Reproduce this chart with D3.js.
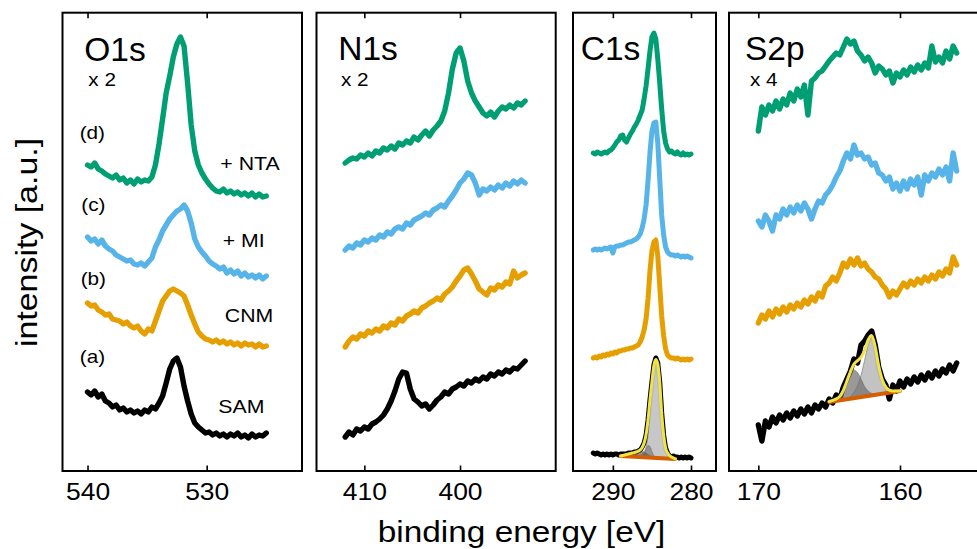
<!DOCTYPE html>
<html>
<head>
<meta charset="utf-8">
<script src="https://cdn.jsdelivr.net/npm/d3@7"></script>
<style>
  html, body { margin: 0; padding: 0; background: #fff; }
  svg { display: block; font-family: "Liberation Sans", Arial, Helvetica, sans-serif; }
</style>
</head>
<body>
<svg id="chart" width="977" height="549"></svg>
<script>
// ---------------- data ----------------
// core levels shown in the four panels and their magnification factors
const coreLevels = ["O1s", "N1s", "C1s", "S2p"];
const magnification = ["x 2", "x 2", "", "x 4"];
// sample series, bottom to top
const samples = ["SAM", "CNM", "+ MI", "+ NTA"];
const sampleTags = ["(a)", "(b)", "(c)", "(d)"];
// tick labels of the binding-energy axes (eV)
const o1sTicks = [540, 530];
const n1sTicks = [410, 400];
const c1sTicks = [290, 280];
const s2pTicks = [170, 160];

// binding-energy sampling of each spectrum (eV)
const o1sEnergy = d3.range(51).map(i => 540 - 0.3 * i);
const n1sEnergy = d3.range(48).map(i => 412 - 0.4 * i);
const c1sEnergy = d3.range(51).map(i => 292.5 - 0.25 * i);
const s2pEnergy = d3.range(57).map(i => 170 - 0.25 * i);

// intensities (a.u., vertically offset for stacking)
const o1sSAM = [79,76,80,74,77,70,68,64,66,61,63,59,61,58,60,57,61,59,64,62,68,75,88,102,110,113,104,85,70,57,48,44,41,38,39,36,38,35,37,34,37,35,38,34,36,33,37,34,36,35,38];
const o1sCNM = [168,165,166,161,159,156,157,152,151,150,147,149,145,143,145,140,137,142,140,150,160,170,175,180,182,180,178,175,166,156,147,139,135,132,131,129,131,128,130,127,129,126,128,125,128,126,127,124,127,124,125];
const o1sMI  = [234,230,232,227,231,225,222,220,216,214,212,210,211,207,206,208,205,209,213,224,231,240,246,252,256,260,262,266,260,248,232,224,219,215,210,207,205,202,204,198,201,197,200,195,198,194,196,193,196,192,195];
const o1sNTA = [306,304,308,302,300,297,295,293,296,291,293,288,291,287,292,289,291,290,294,306,327,352,378,395,414,427,434,425,388,346,320,306,298,292,287,283,280,279,282,278,280,277,279,276,278,275,278,274,277,274,275];

const n1sSAM = [34,39,36,42,40,44,42,47,49,52,56,62,70,80,92,99,98,82,72,69,65,67,62,66,71,74,79,77,82,84,87,85,90,88,92,90,94,92,97,95,99,97,101,99,103,102,106,110];
const n1sCNM = [124,130,134,132,137,135,140,138,142,140,145,143,148,146,152,150,155,157,160,158,163,165,168,170,173,171,177,180,184,190,195,201,203,197,190,182,179,176,183,181,186,184,189,187,200,193,196,198];
const n1sMI  = [221,225,223,228,226,231,229,233,231,236,234,239,237,242,244,242,248,246,251,253,255,258,256,261,263,266,264,270,275,281,288,292,298,296,288,276,282,280,284,281,286,283,288,285,290,287,291,288];
const n1sNTA = [308,311,313,312,316,314,318,315,320,318,323,321,325,322,328,326,330,328,334,331,336,340,335,341,345,350,360,378,402,418,423,410,390,378,370,364,358,355,359,354,360,364,362,366,363,368,366,370];

const c1sSAM = [18,17,18,17,16,17,16,17,16,17,16,17,17,16,17,17,17,17,18,18,18,19,19,20,21,24,28,36,51,71,89,106,113,108,89,58,36,23,18,15,14,15,14,14,13,14,13,14,13,14,13];
const c1sCNM = [113,114,113,115,114,116,115,117,116,118,117,119,118,120,120,121,121,122,122,123,123,124,125,126,129,134,141,152,172,200,220,229,231,215,185,155,135,122,116,114,113,113,112,113,112,111,112,111,112,111,112];
const c1sMI  = [221,222,221,222,221,222,223,222,223,224,218,224,225,225,226,226,227,228,229,229,230,231,232,234,237,243,252,266,290,318,340,348,349,328,292,256,236,224,219,217,216,216,215,216,215,214,215,214,215,214,213];
const c1sNTA = [318,317,319,318,317,318,319,318,320,321,323,326,329,331,335,336,331,329,333,337,340,344,347,351,356,361,372,385,402,420,434,438,432,412,388,362,340,328,322,319,320,318,317,319,317,316,318,316,317,316,317];

const s2pSAM = [46,30,50,44,54,48,56,51,58,53,60,55,62,57,64,58,66,62,68,64,72,68,76,72,84,92,100,112,108,126,130,136,140,126,104,92,86,72,86,80,90,84,92,87,94,89,96,91,98,93,100,95,102,98,106,100,108];
const s2pCNM = [148,156,152,160,154,162,157,164,159,166,162,168,164,171,167,174,170,178,174,185,188,194,190,198,208,204,212,206,213,205,208,202,199,194,192,186,182,174,180,176,182,188,184,190,186,192,188,194,190,196,192,199,195,202,198,214,206];
const s2pMI  = [250,244,256,250,240,256,252,262,256,264,258,266,260,268,262,252,262,270,268,276,280,286,294,300,310,318,312,326,316,318,312,314,306,308,298,296,290,294,282,288,280,290,282,292,286,294,276,296,290,298,294,302,296,304,290,318,300];
const s2pNTA = [340,364,356,366,360,370,362,372,366,378,370,382,374,386,356,390,393,398,400,405,410,414,418,416,424,432,427,430,420,416,410,414,408,398,405,402,396,400,388,398,394,401,396,404,399,406,401,408,403,425,409,414,408,420,412,425,418];

// peak fits of the SAM spectra: linear background + components (height above background)
const c1sFitEnergy = d3.range(29).map(i => 289 - 0.25 * i);
const c1sBgEnergy = [289, 282];
const c1sBgLevel = [15, 12];
const c1sMain  = [0,0,0,0,0,0,0,0,0.3,0.9,1.8,3.2,5.6,10.5,22.5,45,69,90,98,94,76,45,23.4,10.5,5.6,3.2,1.8,0.9,0];
const c1sComp2 = [0,0,0,0,0,0,0,0,0,0,0,1,3.5,8,12,11,6,2,0.5,0,0,0,0,0,0,0,0,0,0];
const c1sComp3 = [0,0.6,1.2,1.8,2.4,3,3.6,4.2,4.6,5,5.3,5.5,5.2,4.2,3,1.8,0.9,0.3,0,0,0,0,0,0,0,0,0,0,0];

const s2pFitEnergy = d3.range(21).map(i => 165 - 0.25 * i);
const s2pBgEnergy = [165, 160];
const s2pBgLevel = [69, 80];
const s2p32 = [0,0,0,0,0.5,1,2,6,12,22,36,51,58,47,28,14,6,2.5,1,0.5,0];
const s2p12 = [0.5,1,2,4,9,17,25,28,25,18,10,5,2,1,0.3,0,0,0,0,0,0];

// ---------------- layout ----------------
const seriesColors = ["#000000", "#E69F00", "#56B4E9", "#009E73"];
const PANEL_TOP = 12.7, PANEL_BOTTOM = 471;
const STRETCH = 1.15; // horizontal stretch of the label typeface

const panels = [
  { left: 62.5, right: 302,   domain: [542.1, 522],    ticks: o1sTicks, energy: o1sEnergy,
    series: [o1sSAM, o1sCNM, o1sMI, o1sNTA], title: [84.3, 60.5], factor: [88.3, 86], width: 5.4 },
  { left: 316.5, right: 555.7, domain: [415, 390],     ticks: n1sTicks, energy: n1sEnergy,
    series: [n1sSAM, n1sCNM, n1sMI, n1sNTA], title: [338.3, 59.5], factor: [341, 86], width: 5.4 },
  { left: 573, right: 716,    domain: [295.1, 276.8],  ticks: c1sTicks, energy: c1sEnergy,
    series: [c1sSAM, c1sCNM, c1sMI, c1sNTA], title: [580.7, 60], factor: null, width: 5 },
  { left: 729, right: 985,    domain: [172.07, 154],   ticks: s2pTicks, energy: s2pEnergy,
    series: [s2pSAM, s2pCNM, s2pMI, s2pNTA], title: [745, 59.5], factor: [750, 86], width: 5.4 }
];

const svg = d3.select("#chart");
const y = d3.scaleLinear().domain([0, 458.3]).range([PANEL_BOTTOM, PANEL_TOP]);

function stretchedText(sel, x, yb, text, size, anchor) {
  return sel.append("text")
    .attr("transform", `translate(${x},${yb}) scale(${STRETCH},1)`)
    .attr("text-anchor", anchor || "start")
    .attr("font-size", size)
    .attr("fill", "#000")
    .text(text);
}

const xScales = [];

panels.forEach((p, k) => {
  const x = d3.scaleLinear().domain(p.domain).range([p.left, p.right]);
  xScales.push(x);
  const g = svg.append("g").attr("class", "panel");

  // spectra
  const line = d3.line().x(d => x(d[0])).y(d => y(d[1])).curve(d3.curveLinear);
  p.series.forEach((vals, s) => {
    g.append("path")
      .datum(p.energy.map((e, i) => [e, vals[i]]))
      .attr("d", line)
      .attr("fill", "none")
      .attr("stroke", seriesColors[s])
      .attr("stroke-width", p.width)
      .attr("stroke-linejoin", "round")
      .attr("stroke-linecap", "round");
  });

  // frame
  g.append("rect")
    .attr("x", p.left).attr("y", PANEL_TOP)
    .attr("width", p.right - p.left).attr("height", PANEL_BOTTOM - PANEL_TOP)
    .attr("fill", "none").attr("stroke", "#000").attr("stroke-width", 2);

  // bottom axis (inward ticks, labels)
  const bottom = g.append("g")
    .attr("transform", `translate(0,${PANEL_BOTTOM})`)
    .call(d3.axisBottom(x).tickValues(p.ticks).tickSizeInner(-5.5).tickSizeOuter(0).tickPadding(12.5).tickFormat(d3.format("d")));
  bottom.select(".domain").remove();
  bottom.selectAll(".tick line").attr("stroke", "#000").attr("stroke-width", 1.6);
  bottom.selectAll(".tick text")
    .attr("font-family", "'Liberation Sans', Arial, sans-serif")
    .attr("font-size", 23)
    .attr("fill", "#000")
    .attr("transform", `scale(${STRETCH},1)`);

  // top axis (mirrored ticks)
  const top = g.append("g")
    .attr("transform", `translate(0,${PANEL_TOP})`)
    .call(d3.axisTop(x).tickValues(p.ticks).tickSizeInner(-5.5).tickSizeOuter(0).tickFormat(""));
  top.select(".domain").remove();
  top.selectAll(".tick line").attr("stroke", "#000").attr("stroke-width", 1.6);

  // titles
  g.append("text")
    .attr("x", p.title[0]).attr("y", p.title[1])
    .attr("font-size", 33.5).attr("fill", "#000")
    .text(coreLevels[k]);
  if (p.factor) stretchedText(g, p.factor[0], p.factor[1], magnification[k], 18);
});

// ---------- fitted components of the SAM spectra ----------
function drawFit(x, energy, bgE, bgL, comps, fills) {
  const bg = d3.scaleLinear().domain(bgE).range(bgL);
  const g = svg.append("g").attr("class", "fit");
  comps.forEach((c, j) => {
    const area = d3.area()
      .x((e) => x(e))
      .y0((e) => y(bg(e)))
      .y1((e, i) => y(bg(e) + c[i]))
      .curve(d3.curveMonotoneX);
    g.append("path").datum(energy).attr("d", area)
      .attr("fill", fills[j].fill).attr("fill-opacity", fills[j].op)
      .attr("stroke", "#6a6a6a").attr("stroke-width", 0.6);
  });
  // background line
  g.append("path")
    .datum(bgE)
    .attr("d", d3.line().x(e => x(e)).y(e => y(bg(e))))
    .attr("stroke", "#D55E00").attr("stroke-width", 3.8).attr("stroke-linecap", "round").attr("fill", "none");
  // envelope
  g.append("path")
    .datum(energy.map((e, i) => [e, bg(e) + d3.sum(comps, c => c[i])]))
    .attr("d", d3.line().x(d => x(d[0])).y(d => y(d[1])).curve(d3.curveMonotoneX))
    .attr("fill", "none").attr("stroke", "#F0E442").attr("stroke-width", 3)
    .attr("stroke-linejoin", "round").attr("stroke-linecap", "round");
}

drawFit(xScales[2], c1sFitEnergy, c1sBgEnergy, c1sBgLevel, [c1sMain, c1sComp2, c1sComp3],
  [{ fill: "#c4c4c4", op: 0.95 }, { fill: "#7d7d7d", op: 0.7 }, { fill: "#505050", op: 0.6 }]);
drawFit(xScales[3], s2pFitEnergy, s2pBgEnergy, s2pBgLevel, [s2p32, s2p12],
  [{ fill: "#c0c0c0", op: 0.95 }, { fill: "#6e6e6e", op: 0.7 }]);

// ---------- sample annotations in the O1s panel ----------
const tagPos = [[92.5, 363], [93.3, 284.5], [93.3, 211], [92.3, 139]];
const namePos = [[241.3, 413.3], [249, 321.7], [243.7, 246.7], [250, 170]];
samples.forEach((name, s) => {
  stretchedText(svg, tagPos[s][0], tagPos[s][1], sampleTags[s], 18, "middle");
  stretchedText(svg, namePos[s][0], namePos[s][1], name, 18.5, "middle");
});

// ---------- axis titles ----------
stretchedText(svg, 521.5, 541.7, "binding energy [eV]", 29, "middle");
svg.append("text")
  .attr("transform", `translate(37.3,242.5) rotate(-90) scale(${STRETCH},1)`)
  .attr("text-anchor", "middle")
  .attr("font-size", 29.5)
  .attr("fill", "#000")
  .text("intensity [a.u.]");
</script>
</body>
</html>
